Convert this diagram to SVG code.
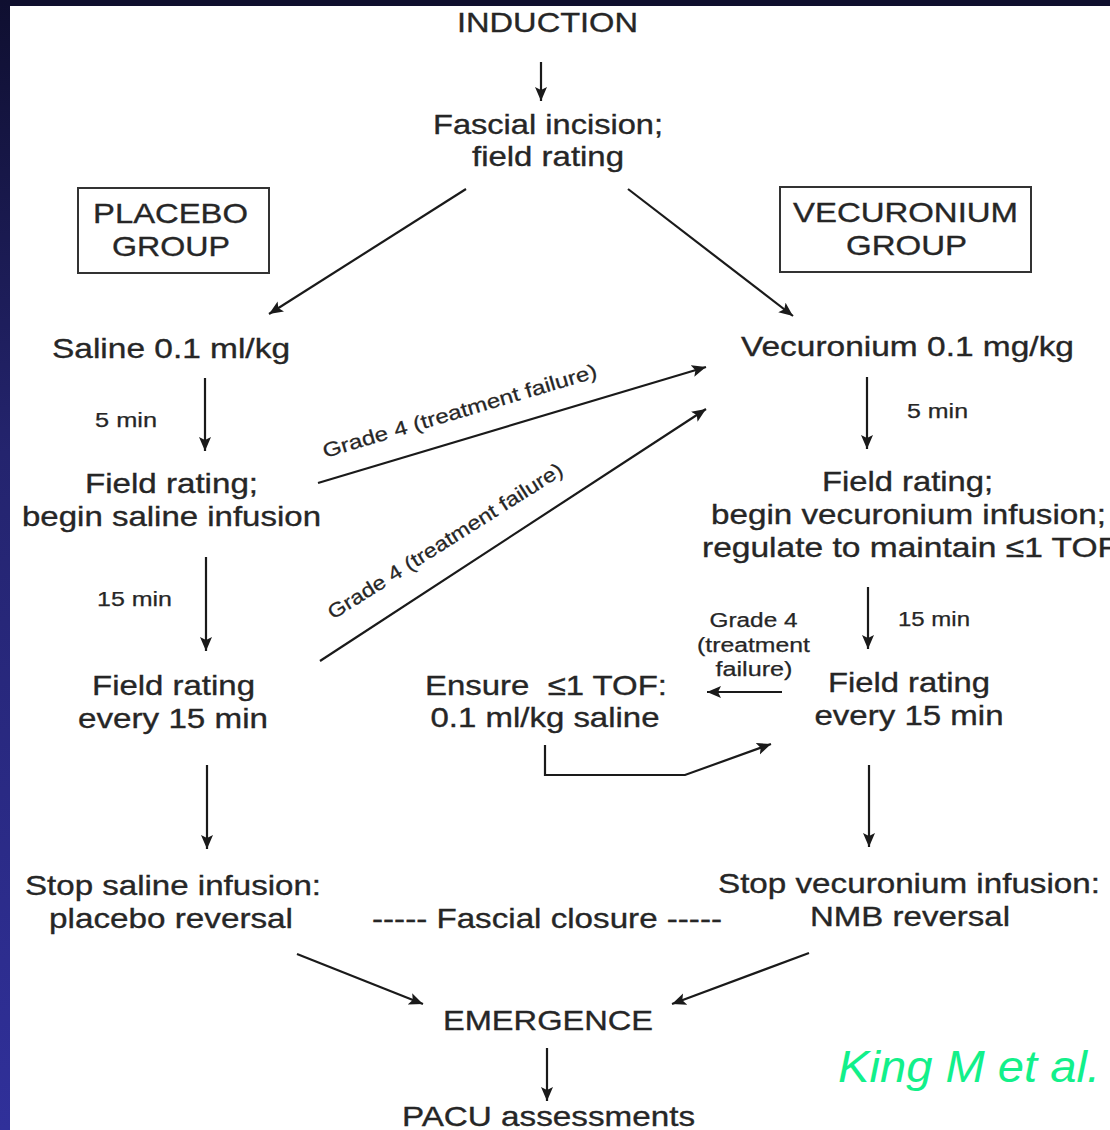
<svg xmlns="http://www.w3.org/2000/svg" width="1110" height="1130" viewBox="0 0 1110 1130">
  <defs>
    <linearGradient id="edge" x1="0" y1="0" x2="0" y2="1">
      <stop offset="0" stop-color="#0f0f30"/>
      <stop offset="0.4" stop-color="#24246e"/>
      <stop offset="1" stop-color="#30309a"/>
    </linearGradient>
    <marker id="ah" markerUnits="userSpaceOnUse" markerWidth="15" markerHeight="13" refX="14" refY="6.5" orient="auto">
      <path d="M0,0.5 L14,6.5 L0,12.5 L3,6.5 z" fill="#1a1a1a"/>
    </marker>
    <style>
      .t { font-family: "Liberation Sans", Arial, sans-serif; font-size: 28.5px; fill: #262626; stroke: #262626; stroke-width: 0.35; text-anchor: middle; }
      .s { font-family: "Liberation Sans", Arial, sans-serif; font-size: 20px; fill: #262626; stroke: #262626; stroke-width: 0.25; text-anchor: middle; }
      .c { fill: none; stroke: #1a1a1a; stroke-width: 2.2; }
      .a { marker-end: url(#ah); }
      .box { fill: none; stroke: #333; stroke-width: 2; }
      .cite { font-family: "Liberation Sans", Arial, sans-serif; font-size: 44px; font-style: italic; fill: #12f08a; }
    </style>
  </defs>

  <rect x="0" y="0" width="1110" height="1130" fill="#ffffff"/>
  <rect x="0" y="0" width="1110" height="6" fill="#0f0f2e"/>
  <rect x="0" y="0" width="10" height="1130" fill="url(#edge)"/>

  <g id="connectors">
    <line class="c a" x1="541" y1="62" x2="541" y2="101"/>
    <line class="c a" x1="466" y1="189" x2="269" y2="314"/>
    <line class="c a" x1="628" y1="189" x2="793" y2="316"/>
    <line class="c a" x1="205" y1="378" x2="205" y2="451"/>
    <line class="c a" x1="206" y1="557" x2="206" y2="651"/>
    <line class="c a" x1="207" y1="765" x2="207" y2="849"/>
    <line class="c a" x1="867" y1="377" x2="867" y2="449"/>
    <line class="c a" x1="868" y1="587" x2="868" y2="649"/>
    <line class="c a" x1="869" y1="765" x2="869" y2="847"/>
    <line class="c a" x1="318" y1="483" x2="706" y2="367"/>
    <line class="c a" x1="320" y1="661" x2="706" y2="409"/>
    <line class="c a" x1="782" y1="692" x2="707" y2="692"/>
    <polyline class="c a" points="545,745 545,775 685,775 771,744"/>
    <line class="c a" x1="297" y1="954" x2="423" y2="1004"/>
    <line class="c a" x1="809" y1="953" x2="672" y2="1004"/>
    <line class="c a" x1="547" y1="1048" x2="547" y2="1101"/>
    <text class="s" transform="translate(325,458) rotate(-16.5)" style="text-anchor:start" textLength="285" lengthAdjust="spacingAndGlyphs">Grade 4 (treatment failure)</text>
    <text class="s" transform="translate(333,620) rotate(-32.3)" style="text-anchor:start" textLength="274" lengthAdjust="spacingAndGlyphs">Grade 4 (treatment failure)</text>
    <text class="s" x="753.5" y="627" textLength="88" lengthAdjust="spacingAndGlyphs">Grade 4</text>
    <text class="s" x="753.5" y="652" textLength="113" lengthAdjust="spacingAndGlyphs">(treatment</text>
    <text class="s" x="754" y="676" textLength="77" lengthAdjust="spacingAndGlyphs">failure)</text>
    <text class="s" x="126" y="427" textLength="62" lengthAdjust="spacingAndGlyphs">5 min</text>
    <text class="s" x="134.5" y="606" textLength="75" lengthAdjust="spacingAndGlyphs">15 min</text>
    <text class="s" x="937.5" y="418" textLength="61" lengthAdjust="spacingAndGlyphs">5 min</text>
    <text class="s" x="934" y="626" textLength="72" lengthAdjust="spacingAndGlyphs">15 min</text>
  </g>

  <g id="induction">
    <text class="t" x="547.5" y="32" textLength="181" lengthAdjust="spacingAndGlyphs">INDUCTION</text>
  </g>
  <g id="fascial-incision">
    <text class="t" x="548" y="134" textLength="230" lengthAdjust="spacingAndGlyphs">Fascial incision;</text>
    <text class="t" x="548" y="166" textLength="152" lengthAdjust="spacingAndGlyphs">field rating</text>
  </g>
  <g id="placebo-group">
    <rect class="box" x="78" y="188" width="191" height="85"/>
    <text class="t" x="170.5" y="223" textLength="155" lengthAdjust="spacingAndGlyphs">PLACEBO</text>
    <text class="t" x="171" y="256" textLength="118" lengthAdjust="spacingAndGlyphs">GROUP</text>
  </g>
  <g id="vecuronium-group">
    <rect class="box" x="780" y="187" width="251" height="85"/>
    <text class="t" x="905.5" y="222" textLength="225" lengthAdjust="spacingAndGlyphs">VECURONIUM</text>
    <text class="t" x="906.5" y="255" textLength="121" lengthAdjust="spacingAndGlyphs">GROUP</text>
  </g>
  <g id="saline">
    <text class="t" x="171" y="358" textLength="238" lengthAdjust="spacingAndGlyphs">Saline 0.1 ml/kg</text>
  </g>
  <g id="vecuronium">
    <text class="t" x="907.5" y="356" textLength="333" lengthAdjust="spacingAndGlyphs">Vecuronium 0.1 mg/kg</text>
  </g>
  <g id="left-field-rating-1">
    <text class="t" x="171.5" y="493" textLength="173" lengthAdjust="spacingAndGlyphs">Field rating;</text>
    <text class="t" x="171.5" y="526" textLength="299" lengthAdjust="spacingAndGlyphs">begin saline infusion</text>
  </g>
  <g id="left-field-rating-2">
    <text class="t" x="173.5" y="695" textLength="163" lengthAdjust="spacingAndGlyphs">Field rating</text>
    <text class="t" x="173" y="728" textLength="190" lengthAdjust="spacingAndGlyphs">every 15 min</text>
  </g>
  <g id="stop-saline">
    <text class="t" x="173" y="895" textLength="296" lengthAdjust="spacingAndGlyphs">Stop saline infusion:</text>
    <text class="t" x="171" y="928" textLength="244" lengthAdjust="spacingAndGlyphs">placebo reversal</text>
  </g>
  <g id="right-field-rating-1">
    <text class="t" x="907.5" y="491" textLength="171" lengthAdjust="spacingAndGlyphs">Field rating;</text>
    <text class="t" x="908.5" y="524" textLength="395" lengthAdjust="spacingAndGlyphs">begin vecuronium infusion;</text>
    <text class="t" x="702" y="557" style="text-anchor:start" textLength="416" lengthAdjust="spacingAndGlyphs">regulate to maintain ≤1 TOF</text>
  </g>
  <g id="right-field-rating-2">
    <text class="t" x="909" y="692" textLength="162" lengthAdjust="spacingAndGlyphs">Field rating</text>
    <text class="t" x="909" y="725" textLength="189" lengthAdjust="spacingAndGlyphs">every 15 min</text>
  </g>
  <g id="ensure-tof">
    <text class="t" x="546" y="695" xml:space="preserve" textLength="242" lengthAdjust="spacingAndGlyphs">Ensure  ≤1 TOF:</text>
    <text class="t" x="545" y="727" textLength="229" lengthAdjust="spacingAndGlyphs">0.1 ml/kg saline</text>
  </g>
  <g id="stop-vecuronium">
    <text class="t" x="909" y="893" textLength="382" lengthAdjust="spacingAndGlyphs">Stop vecuronium infusion:</text>
    <text class="t" x="910" y="926" textLength="200" lengthAdjust="spacingAndGlyphs">NMB reversal</text>
  </g>
  <g id="fascial-closure">
    <text class="t" x="547" y="928" textLength="350" lengthAdjust="spacingAndGlyphs">----- Fascial closure -----</text>
  </g>
  <g id="emergence">
    <text class="t" x="548" y="1030" textLength="210" lengthAdjust="spacingAndGlyphs">EMERGENCE</text>
  </g>
  <g id="pacu">
    <text class="t" x="548.5" y="1126" textLength="293" lengthAdjust="spacingAndGlyphs">PACU assessments</text>
  </g>
  <g id="citation">
    <text class="cite" x="838" y="1082" textLength="262" lengthAdjust="spacingAndGlyphs">King M et al.</text>
  </g>
</svg>
